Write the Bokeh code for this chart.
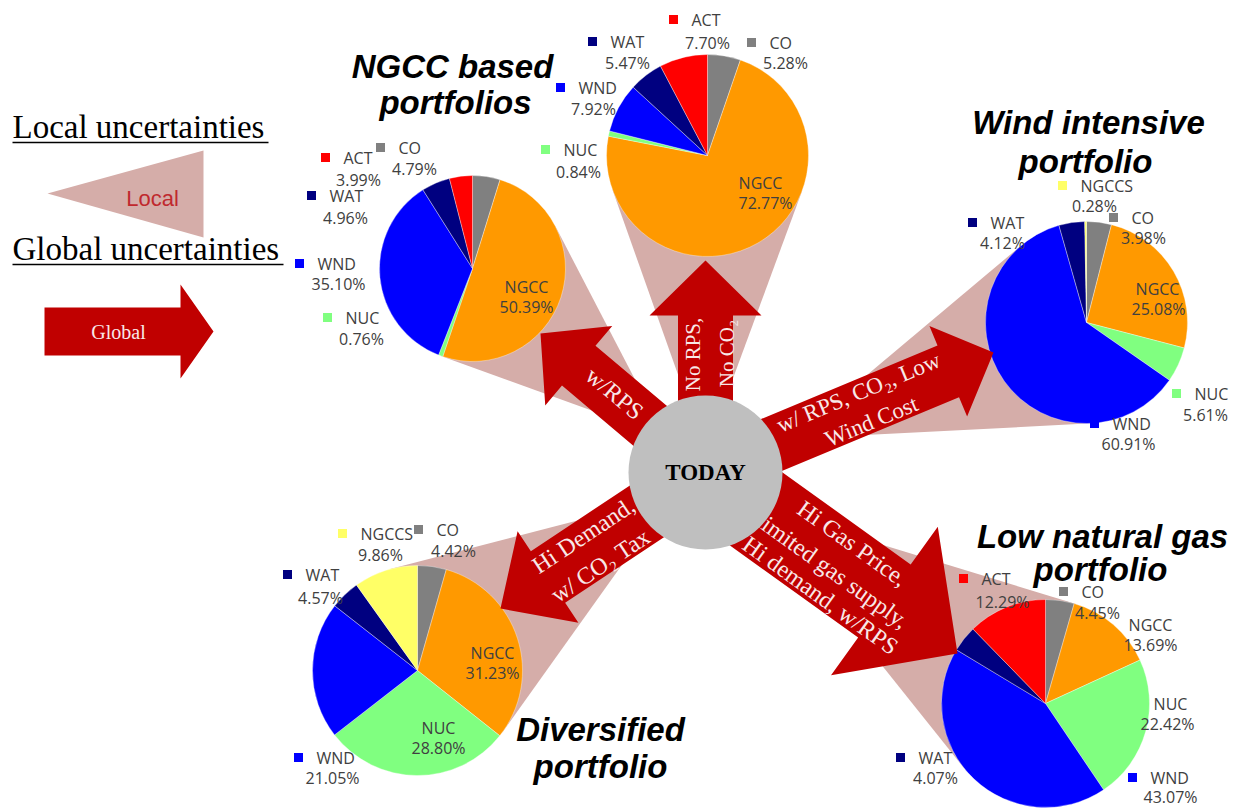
import math
from bokeh.plotting import figure
from bokeh.models import Range1d, ColumnDataSource
from bokeh.core.properties import value
from bokeh.embed import file_html
from bokeh.resources import INLINE

W, H = 1240, 808

# ---- data -------------------------------------------------------------
categories = ["CO", "NGCC", "NUC", "WND", "WAT", "ACT", "NGCCS"]
ngcc_based_pct = [4.79, 50.39, 0.76, 35.10, 4.96, 3.99, 0.0]
no_policy_pct = [5.28, 72.77, 0.84, 7.92, 5.47, 7.70, 0.0]
wind_intensive_pct = [3.98, 25.08, 5.61, 60.91, 4.12, 0.0, 0.28]
diversified_pct = [4.42, 31.23, 28.80, 21.05, 4.57, 0.0, 9.86]
low_gas_pct = [4.45, 13.69, 22.42, 43.07, 4.07, 12.29, 0.0]

portfolio_titles = {
    "ngcc": ["NGCC based", "portfolios"],
    "wind": ["Wind intensive", "portfolio"],
    "div": ["Diversified", "portfolio"],
    "low": ["Low natural gas", "portfolio"],
}
scenario_texts = {
    "ngcc": ["w/RPS"],
    "top": ["No RPS,", "No CO\u2082"],
    "wind": ["w/ RPS, CO\u2082, Low", "Wind Cost"],
    "div": ["Hi Demand,", "w/ CO\u2082 Tax"],
    "low": ["Hi Gas Price,", "limited gas supply,", "Hi demand, w/RPS"],
}
legend_texts = ["Local uncertainties", "Global uncertainties", "Local", "Global"]
center_text = "TODAY"

# ---- styling ----------------------------------------------------------
cat_colors = {"CO": "#808080", "NGCC": "#FF9900", "NUC": "#80FF80",
              "WND": "#0000FF", "WAT": "#000080", "ACT": "#FF0000",
              "NGCCS": "#FFFF66"}
ARROW = "#C00000"
CONE = "#D5ADA9"
ARROW_TXT = "#F8E8E8"
LABEL = "#404040"
SERIF = value("Liberation Serif")
SANS = value("Liberation Sans")
LABEL_FONT = value("Open Sans")

TODAY_C = (705, 472)   # screen coords (y down)
TODAY_R = 77


def Y(y):
    return H - y


# layout of each scenario: pie centre/radius (screen px), arrow geometry,
# cone apex distance and label placement offsets
pies = {
    "ngcc": dict(vals=ngcc_based_pct, c=(472, 268), r=93, apex=54,
                 tip=(540, 333), shaft=52, hw=104, hl=50,
                 labels=[("CO", "out", -92, -121, -58, -100),
                         ("ACT", "out", -147, -111, -114, -89),
                         ("WAT", "out", -161, -73, -127, -51),
                         ("WND", "out", -173, -5, -134, 15),
                         ("NUC", "out", -145, 49, -111, 70),
                         ("NGCC", "in", 54, 18, 54, 38)]),
    "top": dict(vals=no_policy_pct, c=(707, 155), r=101, apex=20,
                tip=(705, 260), shaft=55, hw=112, hl=55,
                labels=[("ACT", "out", -34, -136, 0, -113),
                        ("CO", "out", 44, -113, 78, -93),
                        ("WAT", "out", -115, -114, -80, -93),
                        ("WND", "out", -147, -68, -114, -47),
                        ("NUC", "out", -162, -6, -129, 16),
                        ("NGCC", "in", 53, 27, 58, 47)]),
    "wind": dict(vals=wind_intensive_pct, c=(1086, 322), r=101, apex=92,
                 tip=(993, 352), shaft=56, hw=98, hl=49,
                 labels=[("NGCCS", "out", -24, -137, 8, -117),
                         ("CO", "out", 27, -105, 57, -85),
                         ("WAT", "out", -114, -100, -84, -80),
                         ("NGCC", "in", 71, -34, 72, -14),
                         ("NUC", "out", 90, 71, 119, 92),
                         ("WND", "out", 8, 101, 42, 121)]),
    "div": dict(vals=diversified_pct, c=(417, 670), r=105, apex=42,
                tip=(500, 608), shaft=62, hw=110, hl=57,
                labels=[("NGCCS", "out", -75, -137, -37, -116),
                        ("CO", "out", 1, -141, 36, -120),
                        ("WAT", "out", -130, -96, -97, -73),
                        ("NGCC", "in", 75, -18, 75, 2),
                        ("NUC", "in", 21, 57, 21, 77),
                        ("WND", "out", -119, 87, -85, 107)]),
    "low": dict(vals=low_gas_pct, c=(1045, 703), r=104, apex=59,
                tip=(957, 653), shaft=90, hw=183, hl=90,
                labels=[("ACT", "out", -82, -125, -43, -102),
                        ("CO", "out", 18, -112, 52, -91),
                        ("NGCC", "in", 105, -79, 105, -59),
                        ("NUC", "in", 125, 0, 122, 20),
                        ("WAT", "out", -145, 54, -110, 74),
                        ("WND", "out", 87, 74, 125, 93)]),
}

p = figure(width=W, height=H, x_range=Range1d(0, W), y_range=Range1d(0, H),
           output_backend="svg", toolbar_location=None, min_border=0,
           x_axis_location=None, y_axis_location=None,
           outline_line_color=None, background_fill_color="white")
p.grid.visible = False

# ---- local-uncertainty cones (tangent triangles toward each pie) -------
cx0, cy0 = TODAY_C[0], Y(TODAY_C[1])
cone_xs, cone_ys = [], []
for key, d in pies.items():
    px, py = d["c"][0], Y(d["c"][1])
    dx, dy = px - cx0, py - cy0
    dist = math.hypot(dx, dy)
    ux, uy = dx / dist, dy / dist
    ax, ay = cx0 + ux * d["apex"], cy0 + uy * d["apex"]
    D = math.hypot(px - ax, py - ay)
    th = math.asin(d["r"] / D)
    tl = math.sqrt(D * D - d["r"] ** 2)
    base = math.atan2(py - ay, px - ax)
    t1 = (ax + tl * math.cos(base + th), ay + tl * math.sin(base + th))
    t2 = (ax + tl * math.cos(base - th), ay + tl * math.sin(base - th))
    cone_xs.append([ax, t1[0], px, t2[0]])
    cone_ys.append([ay, t1[1], py, t2[1]])
p.patches(cone_xs, cone_ys, fill_color=CONE, line_color=None)

# ---- pies ---------------------------------------------------------------
for key, d in pies.items():
    vals = d["vals"]
    total = sum(vals)
    starts, ends, cols, cats = [], [], [], []
    acc = 0.0
    for cat, v in zip(categories, vals):
        if v <= 0:
            continue
        a0 = math.pi / 2 - 2 * math.pi * acc / total
        acc += v
        a1 = math.pi / 2 - 2 * math.pi * acc / total
        starts.append(a0)
        ends.append(a1)
        cols.append(cat_colors[cat])
        cats.append(cat)
    src = ColumnDataSource(dict(start=starts, end=ends, color=cols, cat=cats))
    p.wedge(x=d["c"][0], y=Y(d["c"][1]), radius=d["r"], start_angle="start",
            end_angle="end", direction="clock", fill_color="color",
            line_color="white", line_width=0.5, line_alpha=0.7, source=src)

# ---- global-uncertainty arrows -------------------------------------------
def arrow_poly(x0, y0, tx, ty, shaft, hw, hl):
    L = math.hypot(tx - x0, ty - y0)
    ux, uy = (tx - x0) / L, (ty - y0) / L
    nx, ny = -uy, ux
    m = L - hl
    pts = [(0, shaft / 2), (m, shaft / 2), (m, hw / 2), (L, 0),
           (m, -hw / 2), (m, -shaft / 2), (0, -shaft / 2)]
    return ([x0 + s * ux + t * nx for s, t in pts],
            [y0 + s * uy + t * ny for s, t in pts])

axs, ays = [], []
for key, d in pies.items():
    xs, ys = arrow_poly(cx0, cy0, d["tip"][0], Y(d["tip"][1]),
                        d["shaft"], d["hw"], d["hl"])
    axs.append(xs)
    ays.append(ys)
p.patches(axs, ays, fill_color=ARROW, line_color=None)

# scenario captions written along each arrow
def deg(a):
    return math.radians(a)

arrow_text_pos = {
    "ngcc": ([(614, 393)], -40.1, "24px"),
    "top": ([(692, 354), (726, 353)], 90.0, "21px"),
    "wind": ([(858, 392), (871, 421)], 22.6, "23px"),
    "div": ([(583, 535), (600, 565)], 33.6, "24px"),
    "low": ([(852, 543), (832, 570), (820, 595)], -35.7, "24px"),
}
for key, (pos, ang, size) in arrow_text_pos.items():
    lines = scenario_texts[key]
    p.text(x=[q[0] for q in pos], y=[Y(q[1]) for q in pos], text=lines,
           angle=deg(ang), text_align="center", text_baseline="middle",
           text_font=SERIF, text_font_size=size, text_color=ARROW_TXT)

# ---- TODAY hub -------------------------------------------------------------
p.scatter(x=[TODAY_C[0]], y=[Y(TODAY_C[1])], size=2 * TODAY_R, marker="circle",
          fill_color="#BFBFBF", line_color=None)
p.text(x=[TODAY_C[0]], y=[Y(TODAY_C[1])], text=[center_text],
       text_align="center", text_baseline="middle", text_font=SERIF,
       text_font_style="bold", text_font_size="23px", text_color="black")

# ---- pie data labels -------------------------------------------------------
for key, d in pies.items():
    cx, cy = d["c"]
    lookup = dict(zip(categories, d["vals"]))
    sq_x, sq_y, sq_c = [], [], []
    nm_x, nm_y, nm_t = [], [], []
    in_x, in_y, in_t = [], [], []
    v_x, v_y, v_t = [], [], []
    for cat, kind, a, b, vx, vy in d["labels"]:
        if kind == "out":
            sq_x.append(cx + a)
            sq_y.append(Y(cy + b))
            sq_c.append(cat_colors[cat])
            nm_x.append(cx + a + 18)
            nm_y.append(Y(cy + b))
            nm_t.append(cat)
        else:
            in_x.append(cx + a)
            in_y.append(Y(cy + b))
            in_t.append(cat)
        v_x.append(cx + vx)
        v_y.append(Y(cy + vy))
        v_t.append(f"{lookup[cat]:.2f}%")
    p.rect(x=sq_x, y=sq_y, width=9, height=9, fill_color=sq_c, line_color=None)
    p.text(x=nm_x, y=nm_y, text=nm_t, text_align="left", text_baseline="middle",
           text_font=LABEL_FONT, text_font_size="16px", text_color=LABEL)
    p.text(x=in_x, y=in_y, text=in_t, text_align="center", text_baseline="middle",
           text_font=LABEL_FONT, text_font_size="16px", text_color=LABEL)
    p.text(x=v_x, y=v_y, text=v_t, text_align="center", text_baseline="middle",
           text_font=LABEL_FONT, text_font_size="16px", text_color=LABEL)

# ---- portfolio titles ------------------------------------------------------
title_pos = {
    "ngcc": [(452, 66), (455, 102)],
    "wind": [(1088, 122), (1085, 161)],
    "div": [(600, 729), (600, 766)],
    "low": [(1102, 536), (1100, 569)],
}
for key, pos in title_pos.items():
    p.text(x=[q[0] for q in pos], y=[Y(q[1]) for q in pos],
           text=portfolio_titles[key], text_align="center",
           text_baseline="middle", text_font=SANS,
           text_font_style="bold italic", text_font_size="33px",
           text_color="black")

# ---- legend (left) ------------------------------------------------------------
p.text(x=[12, 12], y=[Y(126), Y(248)], text=legend_texts[:2], text_align="left",
       text_baseline="middle", text_font=SERIF, text_font_size="33px",
       text_color="black")
p.segment(x0=[12, 12], y0=[Y(142), Y(264)], x1=[268, 283], y1=[Y(142), Y(264)],
          line_color="black", line_width=1.5)
p.patch(x=[47, 203, 203], y=[Y(193), Y(150), Y(237)], fill_color=CONE,
        line_color=None)
p.text(x=[152], y=[Y(198)], text=[legend_texts[2]], text_align="center",
       text_baseline="middle", text_font=SANS, text_font_size="22px",
       text_color="#C0292E")
gx, gy = arrow_poly(44, Y(331), 213, Y(331), 48, 94, 33)
p.patch(x=gx, y=gy, fill_color=ARROW, line_color=None)
p.text(x=[118], y=[Y(331)], text=[legend_texts[3]], text_align="center",
       text_baseline="middle", text_font=SERIF, text_font_size="20px",
       text_color=ARROW_TXT)

open("out.html", "w").write(file_html(p, INLINE))
